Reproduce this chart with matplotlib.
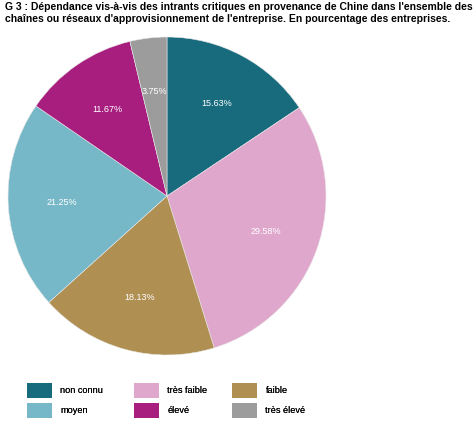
import matplotlib
matplotlib.use("Agg")
import matplotlib.pyplot as plt
from matplotlib.patches import Patch

plt.rcParams['font.family'] = ['Liberation Sans', 'DejaVu Sans']

categories = ["non connu", "très faible", "faible", "moyen", "élevé", "très élevé"]
values = [15.63, 29.58, 18.13, 21.25, 11.67, 3.75]
colors = ["#176b7d", "#e0a7cc", "#b08f52", "#77b8c8", "#a81e7e", "#9c9c9c"]
title = ("G 3 : Dépendance vis-à-vis des intrants critiques en provenance de Chine dans l'ensemble des\n"
         "chaînes ou réseaux d'approvisionnement de l'entreprise. En pourcentage des entreprises.")

fig = plt.figure(figsize=(4.74, 4.25), dpi=100)
W, H = 474, 425
cx, cy, r = 167, 196, 159
ax = fig.add_axes([(cx - r) / W, 1 - (cy + r) / H, 2 * r / W, 2 * r / H])
wedges, texts, autotexts = ax.pie(
    values, colors=colors, startangle=90, counterclock=False,
    autopct="%.2f%%", pctdistance=0.66,
    wedgeprops=dict(edgecolor="#e8e8e8", linewidth=0.4),
    textprops=dict(color="white", fontsize=6.5))
for t, v in zip(autotexts, values):
    t.set_text(f"{v:.2f}%")
ax.set_xlim(-1, 1)
ax.set_ylim(-1, 1)
ax.set_aspect("equal")

fig.text(5 / W, 1 - 2 / H, title, ha="left", va="top", fontsize=7.5,
         fontweight="bold", linespacing=1.2)

handles = [Patch(facecolor=c, edgecolor="none") for c in colors]
col_x = [27, 134, 232]
fs = 6.6
for j in range(3):
    idx = [j, j + 3]
    leg = fig.legend([handles[i] for i in idx], [categories[i] for i in idx],
                     ncol=1, loc="upper left",
                     bbox_to_anchor=(col_x[j] / W, 1 - 383 / H),
                     frameon=False, fontsize=fs, handlelength=2.75, handleheight=2.1,
                     labelspacing=0.55, handletextpad=0.9, borderpad=0, borderaxespad=0)
    fig.add_artist(leg)
fig.savefig("out.png", dpi=100)
